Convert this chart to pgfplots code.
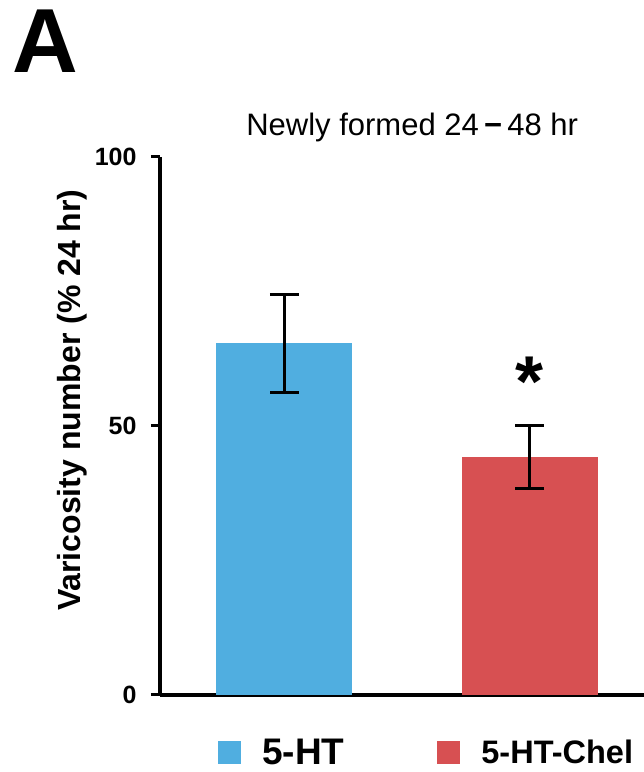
\documentclass[border=0pt]{standalone}
\usepackage{fontspec}
\setmainfont{Liberation Sans}
\usepackage{pgfplots}
\pgfplotsset{compat=1.18}
\definecolor{barblue}{RGB}{80,174,224}
\definecolor{barred}{RGB}{215,80,82}
\begin{document}
\begin{tikzpicture}
\useasboundingbox (0,0) rectangle (644pt,772pt);
\begin{axis}[
  at={(160pt,77pt)}, anchor=south west,
  scale only axis, width=484pt, height=538pt,
  xmin=-0.508, xmax=1.467, ymin=0, ymax=100,
  axis x line*=bottom, axis y line*=left,
  axis line style={line width=4pt, -},
  xtick=\empty, ytick={0,50,100},
  tick align=outside, major tick length=9pt,
  every tick/.style={line width=3pt, black},
  /pgf/number format/assume math mode=true,
  yticklabel style={font=\bfseries\fontsize{25}{25}\selectfont, xshift=-11pt},
  ylabel={Varicosity number (\% 24 hr)},
  ylabel style={at={(axis description cs:-0.182,0.548)}, anchor=center, font=\bfseries\fontsize{32}{32}\selectfont},
  title={Newly formed 24\,\textbf{−}\,48 hr},
  title style={at={(axis description cs:0.521,1.043)}, anchor=center, font=\fontsize{31}{31}\selectfont},
  ybar, bar width=0.555, bar shift=0pt,
  legend columns=2,
  legend cell align=left,
  legend style={at={(axis description cs:0.1198,-0.106)}, anchor=west, draw=none, fill=none, inner sep=0pt,
    font=\bfseries\fontsize{37}{37}\selectfont,
    nodes={inner sep=0pt},
    /tikz/every odd column/.append style={column sep=21pt},
    /tikz/every even column/.append style={column sep=93pt}},
  legend image code/.code={\fill[#1, draw=none] (0pt,-11.5pt) rectangle (23pt,11.5pt);},
  error bars/y dir=both, error bars/y explicit,
  error bars/error bar style={line width=3pt, black},
  error bars/error mark options={line width=3pt, black, mark size=14.5pt, rotate=90},
  clip=false,
]
\addplot[fill=barblue, draw=none] coordinates {(0,65.4) +- (0,9.1)};
\addlegendentry{5-HT}
\addplot[fill=barred, draw=none] coordinates {(1,44.2) +- (0,5.8)};
\addlegendentry{\fontsize{32.5}{32.5}\selectfont 5-HT-Chel}
\node[font=\bfseries\fontsize{72}{72}\selectfont, inner sep=0pt] at (axis cs:1,58.2) {*};
\end{axis}
\node[anchor=base west, inner sep=0pt, font=\bfseries\fontsize{91}{91}\selectfont] at (12pt,699pt) {A};
\end{tikzpicture}
\end{document}
